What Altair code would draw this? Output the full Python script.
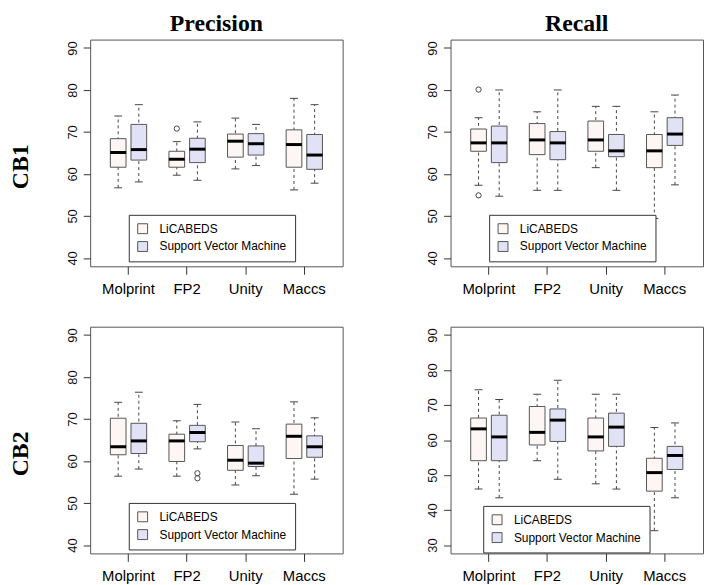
import altair as alt
import pandas as pd

FINGERPRINTS = ["Molprint", "FP2", "Unity", "Maccs"]
METHODS = ["LiCABEDS", "Support Vector Machine"]
FILLS = ["#FDF6F4", "#E2E2F6"]

# box statistics per fingerprint: (lower whisker, Q1, median, Q3, upper whisker)
PREC_CB1_LIC = [(56.7, 61.6, 65.1, 68.4, 73.8), (59.7, 61.6, 63.5, 65.4, 67.7),
                (61.2, 64.0, 67.8, 69.5, 73.3), (56.2, 61.6, 67.0, 70.5, 78.0)]
PREC_CB1_SVM = [(58.1, 63.3, 65.8, 71.8, 76.5), (58.5, 62.7, 65.9, 68.5, 72.4),
                (62.0, 64.5, 67.2, 69.6, 71.8), (57.8, 61.1, 64.5, 69.4, 76.5)]
PREC_CB1_OUT = [("FP2", "LiCABEDS", 70.8)]

REC_CB1_LIC = [(57.3, 65.4, 67.4, 70.7, 73.4), (56.1, 64.6, 68.1, 72.0, 74.8),
               (61.5, 65.4, 68.1, 72.6, 76.1), (49.4, 61.5, 65.5, 69.4, 74.8)]
REC_CB1_SVM = [(54.7, 62.7, 67.4, 71.4, 80.0), (56.1, 63.4, 67.4, 70.1, 80.0),
               (56.1, 64.1, 65.5, 69.4, 76.1), (57.4, 66.8, 69.5, 73.4, 78.8)]
REC_CB1_OUT = [("Molprint", "LiCABEDS", 80.1), ("Molprint", "LiCABEDS", 54.9)]

PREC_CB2_LIC = [(56.4, 61.5, 63.4, 70.2, 74.0), (56.4, 59.9, 64.8, 66.4, 69.6),
                (54.3, 57.8, 60.2, 63.7, 69.3), (52.1, 60.6, 65.9, 68.8, 74.1)]
PREC_CB2_SVM = [(58.1, 61.8, 64.8, 69.0, 76.4), (62.9, 64.6, 66.8, 68.5, 73.5),
                (56.5, 58.7, 59.5, 63.6, 67.7), (55.7, 60.9, 63.4, 66.0, 70.3)]
PREC_CB2_OUT = [("FP2", "Support Vector Machine", 57.1), ("FP2", "Support Vector Machine", 55.9)]

REC_CB2_LIC = [(46.0, 54.1, 63.2, 66.3, 74.4), (54.1, 58.6, 62.2, 69.6, 73.1),
               (47.5, 56.9, 60.9, 66.3, 73.1), (34.1, 45.4, 50.7, 54.8, 63.6)]
REC_CB2_SVM = [(43.5, 54.1, 60.9, 67.1, 71.6), (48.8, 59.6, 65.7, 68.9, 77.1),
               (46.0, 58.2, 63.7, 67.7, 73.1), (43.5, 51.6, 55.6, 58.2, 64.9)]
REC_CB2_OUT = []

PANELS = [
    dict(title="Precision", row="CB1", lic=PREC_CB1_LIC, svm=PREC_CB1_SVM, out=PREC_CB1_OUT,
         ylim=(40, 90), ticks=[40, 50, 60, 70, 80, 90], legend=(39, 177)),
    dict(title="Recall", row=None, lic=REC_CB1_LIC, svm=REC_CB1_SVM, out=REC_CB1_OUT,
         ylim=(40, 90), ticks=[40, 50, 60, 70, 80, 90], legend=(39, 177)),
    dict(title=None, row="CB2", lic=PREC_CB2_LIC, svm=PREC_CB2_SVM, out=PREC_CB2_OUT,
         ylim=(40, 90), ticks=[40, 50, 60, 70, 80, 90], legend=(39, 178)),
    dict(title=None, row=None, lic=REC_CB2_LIC, svm=REC_CB2_SVM, out=REC_CB2_OUT,
         ylim=(30, 90), ticks=[30, 40, 50, 60, 70, 80, 90], legend=(33, 181)),
]

W, H = 255, 229
SANS = "Liberation Sans"
SERIF = "Liberation Serif"


def make_panel(p):
    rows = []
    for m, stats in zip(METHODS, [p["lic"], p["svm"]]):
        for fp, (lo, q1, med, q3, hi) in zip(FINGERPRINTS, stats):
            rows.append(dict(fp=fp, method=m, lo=lo, q1=q1, med=med, q3=q3, hi=hi))
    df = pd.DataFrame(rows)
    out = pd.DataFrame(p["out"], columns=["fp", "method", "value"])

    lo, hi = p["ylim"]
    ext = 0.04 * (hi - lo)
    yscale = alt.Scale(domain=[lo - ext, hi + ext], nice=False, zero=False)
    common = dict(values=p["ticks"], grid=False, domain=False, tickSize=7, tickColor="#333",
                  labelAngle=270, labelAlign="center", labelBaseline="alphabetic",
                  labelPadding=7, labelFontSize=13, labelFont=SANS, labelColor="#111")
    if p["row"]:
        yaxis = alt.Axis(**common, title=p["row"], titleFont=SERIF, titleFontSize=24,
                         titleFontWeight="bold", titleColor="black", titleAngle=270,
                         titleAlign="center", titleBaseline="middle", titleX=-70, titleY=128)
    else:
        yaxis = alt.Axis(**common, title=None)
    xaxis = alt.Axis(domain=False, grid=False, tickSize=8, tickColor="#333", labelAngle=0,
                     labelFontSize=15, labelFont=SANS, labelColor="black", labelPadding=7,
                     bandPosition=0.5, title=None)
    x = alt.X("fp:N", sort=FINGERPRINTS, scale=alt.Scale(paddingInner=0, paddingOuter=0.154),
              axis=xaxis)
    xo = alt.XOffset("method:N", sort=METHODS,
                     scale=alt.Scale(domain=METHODS, paddingInner=0.24, paddingOuter=0.54))

    def Y(field):
        return alt.Y(field, type="quantitative", scale=yscale, axis=yaxis)

    base = alt.Chart(df)
    whisk = base.mark_rule(color="#444", strokeDash=[3, 3], strokeWidth=1, opacity=1).encode(
        x=x, xOffset=xo, y=Y("lo"), y2="hi:Q")
    cap_lo = base.mark_tick(color="#444", size=8, thickness=1, opacity=1).encode(
        x=x, xOffset=xo, y=Y("lo"))
    cap_hi = base.mark_tick(color="#444", size=8, thickness=1, opacity=1).encode(
        x=x, xOffset=xo, y=Y("hi"))
    box = base.mark_bar(stroke="#555", strokeWidth=1, opacity=1).encode(
        x=x, xOffset=xo, y=Y("q1"), y2="q3:Q",
        color=alt.Color("method:N", sort=METHODS,
                        scale=alt.Scale(domain=METHODS, range=FILLS),
                        legend=alt.Legend(title=None, orient="none", legendX=p["legend"][0],
                                          legendY=p["legend"][1], symbolType="square",
                                          symbolSize=100, symbolStrokeColor="#555",
                                          symbolStrokeWidth=1, symbolOpacity=1,
                                          labelFontSize=12, labelFont=SANS, labelColor="black",
                                          labelOffset=11, padding=8, rowPadding=4,
                                          strokeColor="#333", fillColor="white",
                                          direction="vertical")))
    med = base.mark_tick(color="black", size=16, thickness=3, opacity=1).encode(
        x=x, xOffset=xo, y=Y("med"))
    pts = alt.Chart(out).mark_point(shape="circle", filled=False, color="#444", size=28,
                                    strokeWidth=1, opacity=1).encode(x=x, xOffset=xo, y=Y("value"))
    layer = alt.layer(whisk, cap_lo, cap_hi, box, med, pts).properties(width=W, height=H)
    if p["title"]:
        layer = layer.properties(title=alt.TitleParams(
            text=p["title"], font=SERIF, fontSize=24, fontWeight="bold", color="black",
            anchor="middle", frame="group", offset=4))
    return layer


charts = [make_panel(p) for p in PANELS]


def res(c):
    return c.resolve_scale(x="independent", y="independent", color="independent",
                           xOffset="independent").resolve_legend(color="independent")


row1 = res(alt.hconcat(charts[0], charts[1], spacing=83))
row2 = res(alt.hconcat(charts[2], charts[3], spacing=83))
chart = res(alt.vconcat(row1, row2, spacing=29)).properties(
    padding={"left": 0, "top": 0, "right": 0, "bottom": 0}, background="white"
).configure_view(stroke="#555", strokeWidth=1)

chart.save("out.html", embed_options={"renderer": "svg", "actions": False})
